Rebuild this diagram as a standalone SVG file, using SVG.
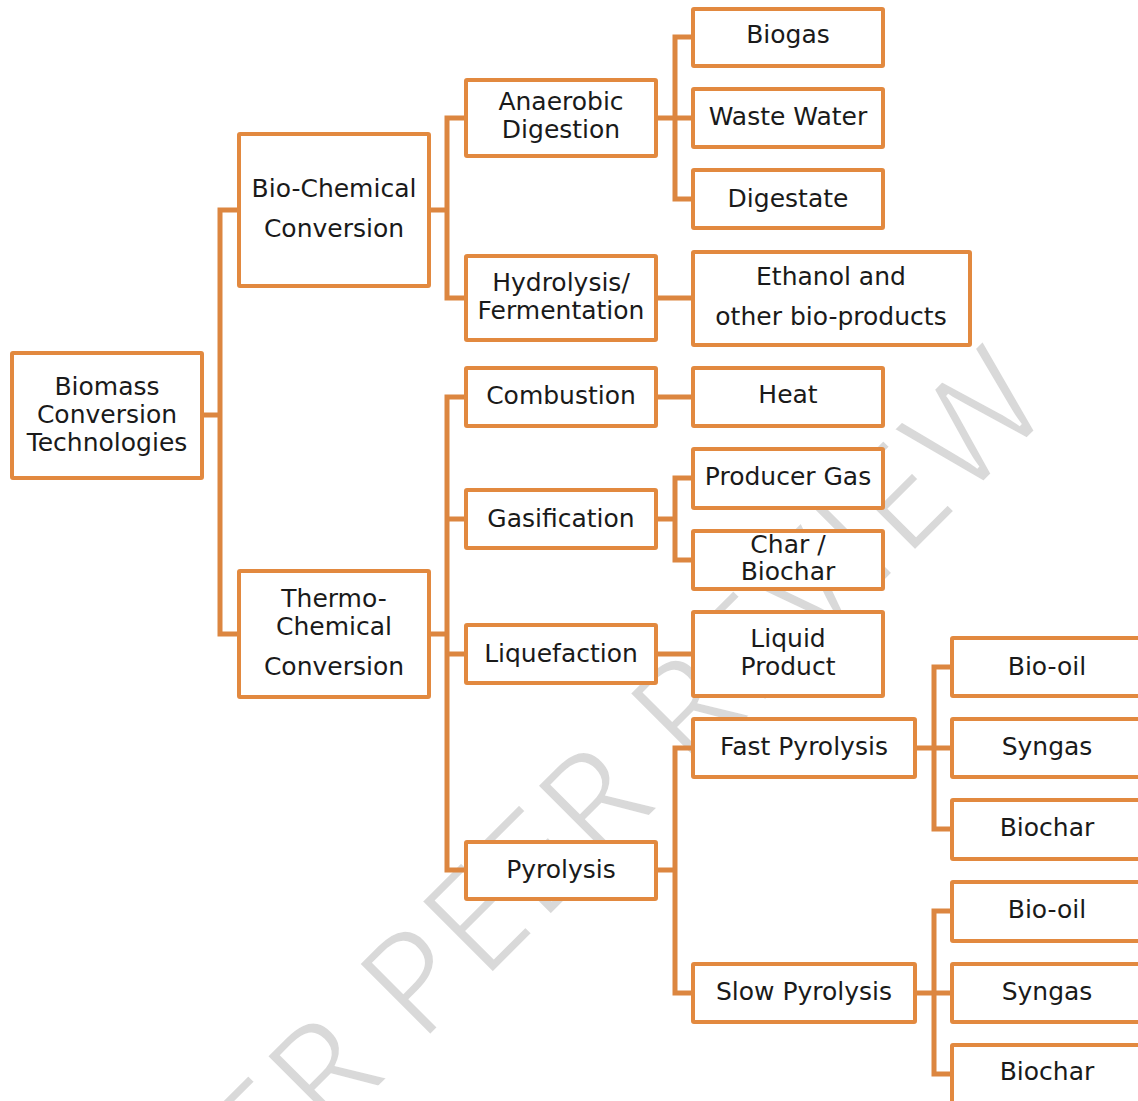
<svg xmlns="http://www.w3.org/2000/svg" width="1138" height="1101" viewBox="0 0 1138 1101">
<style>
.box{fill:#fff;stroke:#E2893F;stroke-width:4}
.lbl{font-family:"DejaVu Sans","Liberation Sans",sans-serif;font-size:25px;fill:#1a1a1a;text-anchor:middle}
.con{fill:none;stroke:#DC8640;stroke-width:5;stroke-linejoin:miter;stroke-linecap:butt}
.wm{font-family:"Open Sans","DejaVu Sans",sans-serif;font-size:142px;fill:#d9d9d9;stroke:#fff;stroke-width:3}
</style>
<rect width="1138" height="1101" fill="#fff"/>
<g id="watermark">
<text class="wm" text-anchor="end" letter-spacing="3" transform="translate(1058,408) rotate(-45)">UNDER PEER REVIEW</text>
</g>
<g id="connectors">
<path class="con" d="M237,210 H220 V634 H237 M204,415 H220"/>
<path class="con" d="M466,118 H447 V298 H466 M431,210 H447"/>
<path class="con" d="M693,37 H675 V199 H693 M656,118 H693"/>
<path class="con" d="M656,298 H693"/>
<path class="con" d="M466,397 H447 V870 H466 M431,634 H447 M447,519 H466 M447,654 H466"/>
<path class="con" d="M656,397 H693"/>
<path class="con" d="M693,478 H675 V560 H693 M656,519 H675"/>
<path class="con" d="M656,654 H693"/>
<path class="con" d="M693,748 H675 V993 H693 M656,870 H675"/>
<path class="con" d="M952,667 H934 V829 H952 M915,748 H952"/>
<path class="con" d="M952,911 H934 V1074 H952 M915,993 H952"/>
</g>
<g id="n-biomass"><rect class="box" x="12" y="353" width="190" height="125" rx="1"/><text class="lbl" x="107" y="395">Biomass</text><text class="lbl" x="107" y="423">Conversion</text><text class="lbl" x="107" y="451">Technologies</text></g>
<g id="n-biochem"><rect class="box" x="239" y="134" width="190" height="152" rx="1"/><text class="lbl" x="334" y="197">Bio-Chemical</text><text class="lbl" x="334" y="237">Conversion</text></g>
<g id="n-thermo"><rect class="box" x="239" y="571" width="190" height="126" rx="1"/><text class="lbl" x="334" y="607">Thermo-</text><text class="lbl" x="334" y="635">Chemical</text><text class="lbl" x="334" y="675">Conversion</text></g>
<g id="n-anaerobic"><rect class="box" x="466" y="80" width="190" height="76" rx="1"/><text class="lbl" x="561" y="110">Anaerobic</text><text class="lbl" x="561" y="138">Digestion</text></g>
<g id="n-hydrolysis"><rect class="box" x="466" y="256" width="190" height="84" rx="1"/><text class="lbl" x="561" y="291">Hydrolysis/</text><text class="lbl" x="561" y="319">Fermentation</text></g>
<g id="n-biogas"><rect class="box" x="693" y="9" width="190" height="57" rx="1"/><text class="lbl" x="788" y="43">Biogas</text></g>
<g id="n-wastewater"><rect class="box" x="693" y="89" width="190" height="58" rx="1"/><text class="lbl" x="788" y="125">Waste Water</text></g>
<g id="n-digestate"><rect class="box" x="693" y="170" width="190" height="58" rx="1"/><text class="lbl" x="788" y="207">Digestate</text></g>
<g id="n-ethanol"><rect class="box" x="693" y="252" width="277" height="93" rx="1"/><text class="lbl" x="831" y="285">Ethanol and</text><text class="lbl" x="831" y="325">other bio-products</text></g>
<g id="n-combustion"><rect class="box" x="466" y="368" width="190" height="58" rx="1"/><text class="lbl" x="561" y="404">Combustion</text></g>
<g id="n-gasification"><rect class="box" x="466" y="490" width="190" height="58" rx="1"/><text class="lbl" x="561" y="527">Gasification</text></g>
<g id="n-liquefaction"><rect class="box" x="466" y="625" width="190" height="58" rx="1"/><text class="lbl" x="561" y="662">Liquefaction</text></g>
<g id="n-pyrolysis"><rect class="box" x="466" y="842" width="190" height="57" rx="1"/><text class="lbl" x="561" y="878">Pyrolysis</text></g>
<g id="n-heat"><rect class="box" x="693" y="368" width="190" height="58" rx="1"/><text class="lbl" x="788" y="403">Heat</text></g>
<g id="n-producergas"><rect class="box" x="693" y="449" width="190" height="59" rx="1"/><text class="lbl" x="788" y="485">Producer Gas</text></g>
<g id="n-char"><rect class="box" x="693" y="531" width="190" height="58" rx="1"/><text class="lbl" x="788" y="553">Char /</text><text class="lbl" x="788" y="580">Biochar</text></g>
<g id="n-liquid"><rect class="box" x="693" y="612" width="190" height="84" rx="1"/><text class="lbl" x="788" y="647">Liquid</text><text class="lbl" x="788" y="675">Product</text></g>
<g id="n-fast"><rect class="box" x="693" y="719" width="222" height="58" rx="1"/><text class="lbl" x="804" y="755">Fast Pyrolysis</text></g>
<g id="n-slow"><rect class="box" x="693" y="964" width="222" height="58" rx="1"/><text class="lbl" x="804" y="1000">Slow Pyrolysis</text></g>
<g id="n-fast-biooil"><rect class="box" x="952" y="638" width="200" height="58" rx="1"/><text class="lbl" x="1047" y="675">Bio-oil</text></g>
<g id="n-fast-syngas"><rect class="box" x="952" y="719" width="200" height="58" rx="1"/><text class="lbl" x="1047" y="755">Syngas</text></g>
<g id="n-fast-biochar"><rect class="box" x="952" y="800" width="200" height="59" rx="1"/><text class="lbl" x="1047" y="836">Biochar</text></g>
<g id="n-slow-biooil"><rect class="box" x="952" y="882" width="200" height="59" rx="1"/><text class="lbl" x="1047" y="918">Bio-oil</text></g>
<g id="n-slow-syngas"><rect class="box" x="952" y="964" width="200" height="58" rx="1"/><text class="lbl" x="1047" y="1000">Syngas</text></g>
<g id="n-slow-biochar"><rect class="box" x="952" y="1045" width="200" height="58" rx="1"/><text class="lbl" x="1047" y="1080">Biochar</text></g>
</svg>
